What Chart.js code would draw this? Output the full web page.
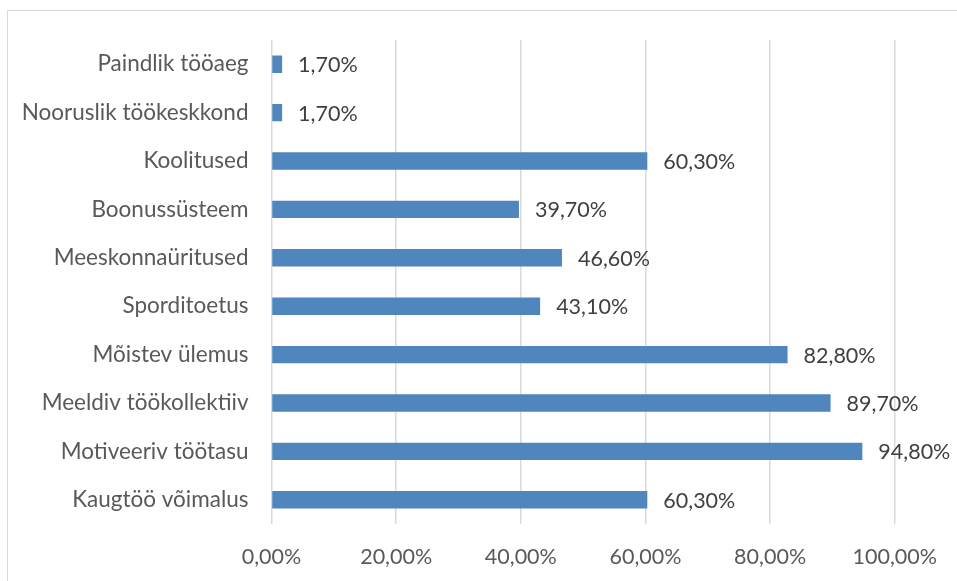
<!DOCTYPE html>
<html>
<head>
<meta charset="utf-8">
<script src="https://cdn.jsdelivr.net/npm/chart.js@4"></script>
<style>
    html, body { margin: 0; padding: 0; background: #fff; }
    #wrap { position: relative; width: 957px; height: 581px; overflow: hidden; }
    #frame { position: absolute; left: 7px; top: 10px; width: 1000px; height: 600px;
             border-left: 1.5px solid #d9d9d9; border-top: 1.5px solid #d9d9d9; }
    canvas { position: absolute; left: 0; top: 0; }
</style>
</head>
<body>
<div id="wrap">
    <div id="frame"></div>
    <canvas id="chart" width="957" height="581"></canvas>
</div>
<script>
const categories = [
    "Paindlik tööaeg",
    "Nooruslik töökeskkond",
    "Koolitused",
    "Boonussüsteem",
    "Meeskonnaüritused",
    "Sporditoetus",
    "Mõistev ülemus",
    "Meeldiv töökollektiiv",
    "Motiveeriv töötasu",
    "Kaugtöö võimalus"
];
const values = [1.7, 1.7, 60.3, 39.7, 46.6, 43.1, 82.8, 89.7, 94.8, 60.3];
const xTicks = [0, 20, 40, 60, 80, 100];

const FONT = "Lato";
const fmt = (v, d) => v.toFixed(d).replace(".", ",") + "%";

// labels after bar ends
const valueLabels = {
    id: "valueLabels",
    afterDatasetsDraw(chart) {
        const ctx = chart.ctx;
        const meta = chart.getDatasetMeta(0);
        ctx.save();
        ctx.font = "21.5px " + FONT;
        ctx.fillStyle = "#404040";
        ctx.textAlign = "left";
        ctx.textBaseline = "middle";
        meta.data.forEach((bar, i) => {
            ctx.fillText(fmt(values[i], 2), bar.x + 16, bar.y + 1);
        });
        ctx.restore();
    }
};

new Chart(document.getElementById("chart"), {
    type: "bar",
    data: {
        labels: categories,
        datasets: [{
            data: values,
            backgroundColor: "#4F86BD",
            barPercentage: 0.36,
            categoryPercentage: 1
        }]
    },
    options: {
        indexAxis: "y",
        responsive: false,
        animation: false,
        layout: { padding: { left: 0, right: 60, top: 40, bottom: 0 } },
        plugins: { legend: { display: false }, tooltip: { enabled: false } },
        scales: {
            x: {
                min: 0,
                max: 100,
                afterBuildTicks: (scale) => { scale.ticks = xTicks.map(v => ({ value: v })); },
                afterFit: (scale) => { scale.height = 57; },
                grid: { color: "#d9d9d9", lineWidth: 1.5, drawTicks: false },
                border: { display: false },
                ticks: {
                    padding: 20,
                    color: "#595959",
                    font: { family: FONT, size: 21.5 },
                    callback: (v) => fmt(v, 2)
                }
            },
            y: {
                afterFit: (scale) => { scale.width = 271.5; },
                grid: { display: false, drawTicks: false },
                border: { display: false },
                ticks: {
                    padding: 23,
                    color: "#595959",
                    font: { family: FONT, size: 22.5 }
                }
            }
        }
    },
    plugins: [valueLabels]
});
</script>
</body>
</html>
